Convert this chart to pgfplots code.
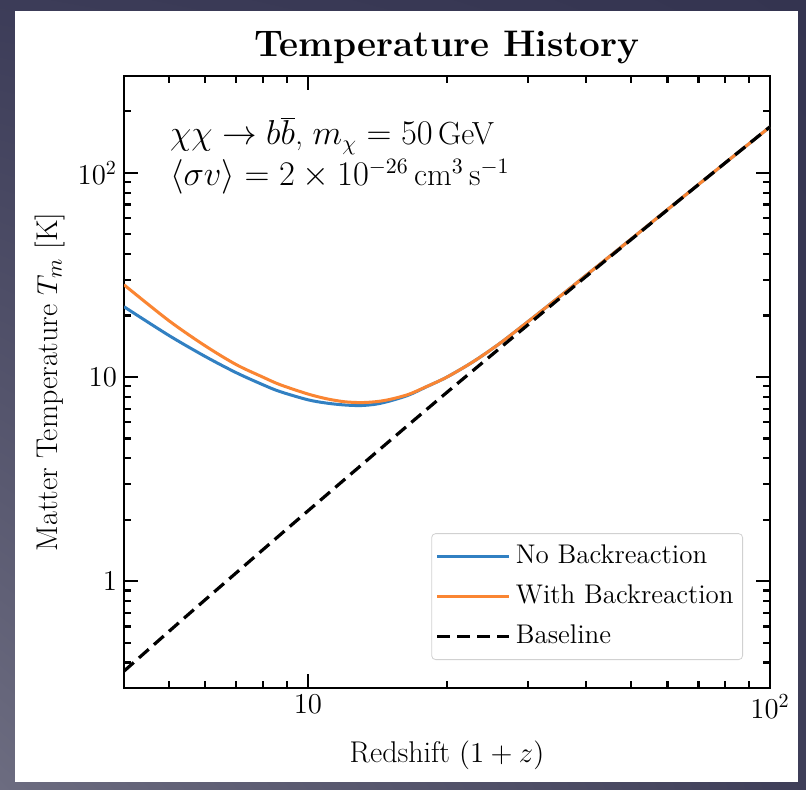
\documentclass[border=0pt]{standalone}
\usepackage{pgfplots}
\pgfplotsset{compat=1.18}
\usetikzlibrary{shadings}
\definecolor{cblue}{RGB}{49,128,194}
\definecolor{corange}{RGB}{250,133,50}
\definecolor{bgUL}{RGB}{60,60,88}
\definecolor{bgUR}{RGB}{52,52,80}
\definecolor{bgLL}{RGB}{108,108,128}
\definecolor{bgLR}{RGB}{62,62,88}
\begin{document}
\begin{tikzpicture}[x=1pt,y=1pt]
\shade[upper left=bgUL, upper right=bgUR, lower left=bgLL, lower right=bgLR] (-62,-50.5) rectangle (341,344);
\fill[white] (-54.5,-47) rectangle (337,338.5);
\begin{axis}[
  at={(0,0)}, anchor=south west,
  scale only axis, width=323pt, height=306pt,
  xmode=log, ymode=log,
  xmin=4, xmax=100, ymin=0.3, ymax=298,
  xtick={10,100}, xticklabels={$10$,$10^2$},
  ytick={1,10,100}, yticklabels={$1$,$10$,$10^2$},
  minor xtick={5,6,7,8,9,20,30,40,50,60,70,80,90},
  minor ytick={0.3,0.4,0.5,0.6,0.7,0.8,0.9,2,3,4,5,6,7,8,9,20,30,40,50,60,70,80,90,200},
  tick align=inside, xtick pos=both, ytick pos=both,
  major tick length=7pt, minor tick length=3.5pt,
  every tick/.style={black, line width=1.1pt},
  axis line style={line width=1.4pt},
  ticklabel style={font=\fontsize{14}{16}\selectfont},
  title={Temperature History},
  title style={font=\fontsize{18.5}{21}\selectfont\bfseries, at={(axis description cs:0.5,1.0319)}, anchor=base, yshift=-6pt},
  xlabel={Redshift $(1+z)$},
  xlabel style={font=\fontsize{15}{18}\selectfont, at={(axis description cs:0.5,-0.1209)}, anchor=base},
  ylabel={Matter Temperature $T_m$ [K]},
  ylabel style={font=\fontsize{15}{18}\selectfont, at={(axis description cs:-0.1150,0.5)}, anchor=center},
  legend cell align=left,
  legend image code/.code={\draw[#1] (0pt,0pt) -- (29pt,0pt); \path (0pt,0pt) -- (36pt,0pt);},
  legend style={at={(axis description cs:1,0)}, anchor=south east, xshift=-13.5pt, yshift=14pt,
    draw=black!18, rounded corners=2pt, fill=white,
    font=\fontsize{13.5}{16}\selectfont,
    inner xsep=2pt, inner ysep=1.5pt, row sep=0pt,
    nodes={inner xsep=2.5pt, inner ysep=3pt, text height=10.5pt, text depth=3.5pt},
    /tikz/every even column/.append style={column sep=5pt}},
]
\addplot[cblue, line width=1.5pt, smooth] coordinates {
(4,22.1) (5,16.0) (6,12.6) (7,10.5) (8,9.16) (8.7,8.49) (10,7.74) (11,7.45) (12,7.30) (13,7.25) (14,7.36) (15,7.62) (16.5,8.15) (18,8.93) (20,10.0) (22.8,11.9) (26,14.6) (30,18.75) (35,24.7) (40,31.5) (50,47.3) (60,66.1) (80,111.9) (100,168)
};
\addlegendentry{\makebox[105pt][l]{No Backreaction}}
\addplot[corange, line width=1.5pt, smooth] coordinates {
(4,28.3) (5,18.9) (6,14.2) (7,11.5) (8,9.98) (8.7,9.18) (10,8.26) (11,7.82) (12,7.57) (13,7.50) (14,7.57) (15,7.76) (16.5,8.22) (18,8.95) (20,10.0) (22.8,11.9) (26,14.6) (30,18.75) (35,24.7) (40,31.5) (50,47.3) (60,66.1) (80,111.9) (100,168)
};
\addlegendentry{With Backreaction}
\addplot[black, line width=1.6pt, dash pattern=on 6.5pt off 3.5pt, smooth] coordinates {
(4,0.363) (5,0.567) (6,0.813) (8,1.43) (10,2.21) (15,4.85) (20,8.42) (30,18.1) (40,31.1) (60,65.9) (80,111.9) (100,168)
};
\addlegendentry{Baseline}
\node[anchor=base west, font=\fontsize{16}{20}\selectfont] at (axis description cs:0.0604,0.8873) {$\chi\chi \to b\overline{b}$, $m_\chi = 50$\,GeV};
\node[anchor=base west, font=\fontsize{16}{20}\selectfont] at (axis description cs:0.0604,0.8203) {$\langle\sigma v\rangle = 2\times10^{-26}$\,cm$^3$\,s$^{-1}$};
\end{axis}
\end{tikzpicture}
\end{document}
